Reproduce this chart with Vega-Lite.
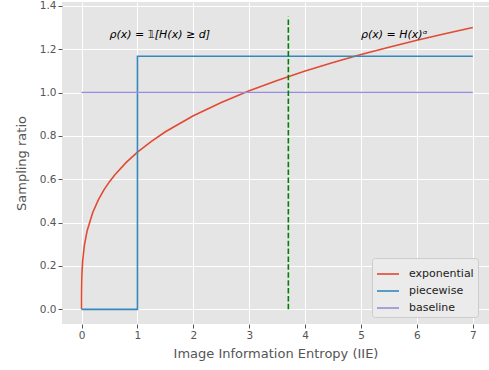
{
  "$schema": "https://vega.github.io/schema/vega-lite/v6.json",
  "width": 427,
  "height": 322,
  "autosize": "none",
  "padding": {"left": 62, "top": 2, "right": 0, "bottom": 46},
  "background": "white",
  "config": {
    "font": "DejaVu Sans",
    "view": {"fill": "#E5E5E5", "stroke": null},
    "axis": {
      "domain": false,
      "grid": true,
      "gridColor": "white",
      "gridWidth": 1,
      "tickColor": "#555555",
      "tickSize": 4,
      "tickWidth": 1,
      "labelColor": "#555555",
      "labelFontSize": 10.5,
      "labelPadding": 2,
      "titleColor": "#555555",
      "titleFontSize": 13,
      "titleFontWeight": "normal"
    }
  },
  "datasets": {
    "lines": [
      {"series": "exponential", "ord": 0, "x": 0, "y": 0},
      {"series": "exponential", "ord": 1, "x": 0.0001, "y": 0.0457},
      {"series": "exponential", "ord": 2, "x": 0.001, "y": 0.0913},
      {"series": "exponential", "ord": 3, "x": 0.005, "y": 0.148},
      {"series": "exponential", "ord": 4, "x": 0.01, "y": 0.182},
      {"series": "exponential", "ord": 5, "x": 0.02, "y": 0.224},
      {"series": "exponential", "ord": 6, "x": 0.05, "y": 0.295},
      {"series": "exponential", "ord": 7, "x": 0.1, "y": 0.363},
      {"series": "exponential", "ord": 8, "x": 0.2, "y": 0.447},
      {"series": "exponential", "ord": 9, "x": 0.3, "y": 0.505},
      {"series": "exponential", "ord": 10, "x": 0.4, "y": 0.551},
      {"series": "exponential", "ord": 11, "x": 0.5, "y": 0.589},
      {"series": "exponential", "ord": 12, "x": 0.6, "y": 0.622},
      {"series": "exponential", "ord": 13, "x": 0.8, "y": 0.678},
      {"series": "exponential", "ord": 14, "x": 1.0, "y": 0.725},
      {"series": "exponential", "ord": 15, "x": 1.25, "y": 0.775},
      {"series": "exponential", "ord": 16, "x": 1.5, "y": 0.819},
      {"series": "exponential", "ord": 17, "x": 2.0, "y": 0.893},
      {"series": "exponential", "ord": 18, "x": 2.5, "y": 0.954},
      {"series": "exponential", "ord": 19, "x": 3.0, "y": 1.008},
      {"series": "exponential", "ord": 20, "x": 3.5, "y": 1.056},
      {"series": "exponential", "ord": 21, "x": 4.0, "y": 1.099},
      {"series": "exponential", "ord": 22, "x": 4.5, "y": 1.138},
      {"series": "exponential", "ord": 23, "x": 5.0, "y": 1.175},
      {"series": "exponential", "ord": 24, "x": 5.5, "y": 1.209},
      {"series": "exponential", "ord": 25, "x": 6.0, "y": 1.241},
      {"series": "exponential", "ord": 26, "x": 6.5, "y": 1.271},
      {"series": "exponential", "ord": 27, "x": 7.0, "y": 1.3},
      {"series": "piecewise", "ord": 0, "x": 0, "y": 0},
      {"series": "piecewise", "ord": 1, "x": 1, "y": 0},
      {"series": "piecewise", "ord": 2, "x": 1, "y": 1.167},
      {"series": "piecewise", "ord": 3, "x": 7, "y": 1.167},
      {"series": "baseline", "ord": 0, "x": 0, "y": 1.0},
      {"series": "baseline", "ord": 1, "x": 7, "y": 1.0}
    ],
    "vline": [{"x": 3.7, "y": 0, "y2": 1.35}],
    "notes": [
      {"x": 0.5, "y": 1.25, "label": "ρ(x) = 𝟙[H(x) ≥ d]"},
      {"x": 5.0, "y": 1.25, "label": "ρ(x) = H(x)ᵅ"}
    ]
  },
  "layer": [
    {
      "data": {"name": "lines"},
      "mark": {"type": "line", "strokeWidth": 1.6, "interpolate": "linear"},
      "encoding": {
        "x": {
          "field": "x", "type": "quantitative",
          "scale": {"domain": [-0.35, 7.29], "nice": false, "zero": false},
          "axis": {"values": [0, 1, 2, 3, 4, 5, 6, 7], "format": "d", "title": "Image Information Entropy (IIE)", "titlePadding": 7, "labelFlush": false}
        },
        "y": {
          "field": "y", "type": "quantitative",
          "scale": {"domain": [-0.0675, 1.4175], "nice": false, "zero": false},
          "axis": {"values": [0, 0.2, 0.4, 0.6, 0.8, 1.0, 1.2, 1.4], "format": ".1f", "title": "Sampling ratio", "titlePadding": 11, "labelFlush": false}
        },
        "color": {
          "field": "series", "type": "nominal",
          "scale": {"domain": ["exponential", "piecewise", "baseline"], "range": ["#E24A33", "#348ABD", "#988ED5"]},
          "legend": {
            "title": null,
            "orient": "none",
            "legendX": 310,
            "legendY": 256,
            "symbolType": "stroke",
            "symbolSize": 484,
            "symbolStrokeWidth": 1.6,
            "labelFontSize": 11,
            "labelColor": "#222222",
            "labelOffset": 9,
            "rowPadding": -4,
            "padding": 4,
            "fillColor": "#EBEBEB",
            "strokeColor": "#CCCCCC",
            "cornerRadius": 3
          }
        },
        "order": {"field": "ord", "type": "quantitative"}
      }
    },
    {
      "data": {"name": "vline"},
      "mark": {"type": "rule", "color": "#008000", "strokeWidth": 1.6, "strokeDash": [5.5, 2.4]},
      "encoding": {
        "x": {"field": "x", "type": "quantitative"},
        "y": {"field": "y", "type": "quantitative"},
        "y2": {"field": "y2"}
      }
    },
    {
      "data": {"name": "notes"},
      "mark": {"type": "text", "align": "left", "baseline": "alphabetic", "fontSize": 11, "color": "black", "fontStyle": "italic"},
      "encoding": {
        "x": {"field": "x", "type": "quantitative"},
        "y": {"field": "y", "type": "quantitative"},
        "text": {"field": "label"}
      }
    }
  ]
}
